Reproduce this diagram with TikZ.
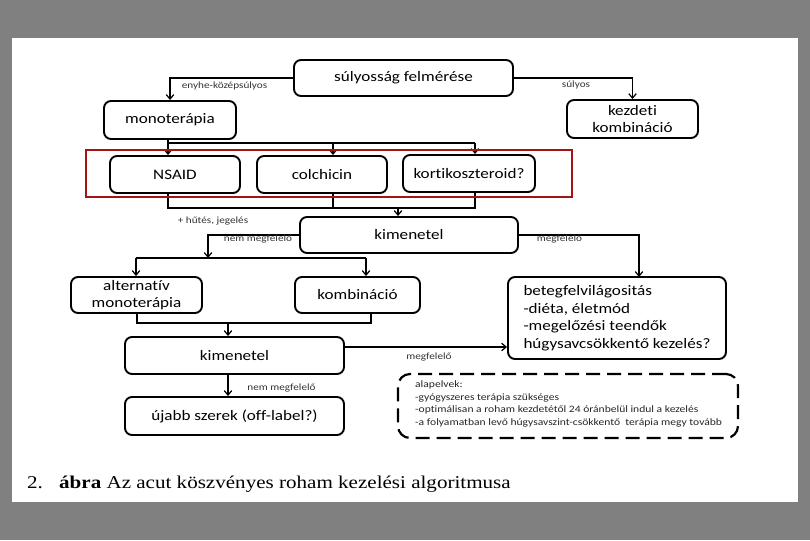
\documentclass[tikz,border=0pt]{standalone}
\usepackage{fontspec}
\newfontfamily\boxfont[FakeStretch=1.18,Ligatures=NoCommon]{Carlito}
\newfontfamily\capfont[FakeStretch=1.17]{Liberation Serif}
\usetikzlibrary{arrows.meta,calc}
\definecolor{frame}{RGB}{160,22,22}
\definecolor{pagegray}{RGB}{128,128,128}
\begin{document}
\begin{tikzpicture}[x=1pt,y=-1pt,
  box/.style={draw,line width=1.9pt,rounded corners=7pt,inner sep=0pt,align=center,
    font=\boxfont\fontsize{14.5}{17.5}\selectfont},
  conn/.style={line width=1.3pt},
  arr/.style={conn,-{Straight Barb[length=4.5pt,width=7.5pt,line width=1.2pt]}},
  lbl/.style={font=\boxfont\fontsize{9.5}{11}\selectfont,text=black!80,inner sep=0pt},
  small/.style={font=\boxfont\fontsize{9.8}{12.7}\selectfont,text=black!85,inner sep=0pt,align=left}]
\useasboundingbox (0,0) rectangle (810,540);
\fill[pagegray] (0,0) rectangle (810,540);
\fill[white] (12,38) rectangle (798,502);

% boxes
\node[box,minimum width=219pt,minimum height=36pt] (sev) at (403.5,78) {súlyosság felmérése};
\node[box,minimum width=132pt,minimum height=38pt] (mono) at (170,120) {monoterápia};
\node[box,minimum width=131pt,minimum height=38pt] (kezd) at (632.5,119) {kezdeti\\kombináció};
\node[box,minimum width=130pt,minimum height=37pt] (nsaid) at (175,174.5) {\raisebox{-2pt}{NSAID}};
\node[box,minimum width=130pt,minimum height=37pt] (colch) at (322,174.5) {\raisebox{-2pt}{colchicin}};
\node[box,minimum width=132pt,minimum height=37pt] (kort) at (469,173.5) {kortikoszteroid?};
\node[box,minimum width=218pt,minimum height=36pt] (kim1) at (409,235) {kimenetel};
\node[box,minimum width=131pt,minimum height=36pt] (alt) at (136.5,295) {alternatív\\monoterápia};
\node[box,minimum width=125pt,minimum height=36pt] (komb) at (357.5,295) {kombináció};
\node[box,minimum width=219pt,minimum height=37pt] (kim2) at (234.5,355.5) {kimenetel};
\node[box,minimum width=219pt,minimum height=38pt] (ujabb) at (234.5,416) {újabb szerek (off-label?)};
\node[box,minimum width=218pt,minimum height=82pt,align=left] (beteg) at (617,318)
  {betegfelvilágositás\\-diéta, életmód\\-megelőzési teendők\\húgysavcsökkentő kezelés?};
\node[draw,line width=2.2pt,dash pattern=on 14pt off 7pt,rounded corners=12pt,
  minimum width=340pt,minimum height=64pt] (alap) at (568,406) {};
\node[small,anchor=north west] (alaptxt) at (415,380.5)
  {alapelvek:\\-gyógyszeres terápia szükséges\\-optimálisan a roham kezdetétől 24 óránbelül indul a kezelés\\-a folyamatban levő húgysavszint-csökkentő\ \ terápia megy tovább};

% top connectors
\draw[arr] (sev.west) -| (mono);
\draw[arr] (sev.east) -| (kezd);
\node[lbl] (l1) at (224.5,86) {enyhe-középsúlyos};
\node[lbl] (l2) at (576,85) {súlyos};

% monoterapia -> three drugs
\coordinate (bL) at (168,143);
\coordinate (bM) at (333,143);
\coordinate (bR) at (475,143);
\draw[conn] (mono.south -| bL) -- (bL) -- (bR);
\draw[arr] (bL) -- (bL |- nsaid.north);
\draw[arr] (bM) -- (bM |- colch.north);
\draw[arr] (bR) -- (bR |- kort.north);

% drugs -> kimenetel
\coordinate (cL) at (168,208);
\coordinate (cM) at (333,208);
\coordinate (cR) at (475,208);
\coordinate (cA) at (398,208);
\draw[conn] (cL |- nsaid.south) -- (cL) -- (cR) -- (cR |- kort.south);
\draw[conn] (cM |- colch.south) -- (cM);
\draw[arr] (cA) -- (cA |- kim1.north);
\node[lbl] (l3) at (213,221) {+ hűtés, jegelés};

% red frame
\node[draw=frame,line width=2.6pt,minimum width=486pt,minimum height=47pt] (redframe) at (329,173.5) {};

% kimenetel 1 branches
\coordinate (dA) at (208,258);
\coordinate (dL) at (136,258);
\coordinate (dR) at (366,258);
\draw[arr] (kim1.west) -| (dA);
\draw[conn] (dL) -- (dR);
\draw[arr] (dL) -- (dL |- alt.north);
\draw[arr] (dR) -- (dR |- komb.north);
\node[lbl] (l4) at (258,239) {nem megfelelő};
\coordinate (bt) at (639,277);
\draw[arr] (kim1.east) -| (bt);
\node[lbl] (l5) at (559.5,239) {megfelelő};

% alt/komb -> kimenetel 2
\coordinate (eL) at (137,323);
\coordinate (eR) at (371,323);
\coordinate (eA) at (228,323);
\draw[conn] (eL |- alt.south) -- (eL) -- (eR) -- (eR |- komb.south);
\draw[arr] (eA) -- (eA |- kim2.north);

% kimenetel 2 branches
\draw[arr] ([yshift=8.5pt]kim2.east) coordinate (k2r) -- (k2r -| beteg.west);
\node[lbl] (l6) at (429,357) {megfelelő};
\coordinate (fA) at (228,374);
\draw[arr] (fA) -- (fA |- ujabb.north);
\node[lbl] (l7) at (281.5,388) {nem megfelelő};

% caption
\node[anchor=base west,inner sep=0pt,font=\capfont\fontsize{18}{20}\selectfont] (capnum) at (27,488) {2.};
\node[anchor=base west,inner sep=0pt,font=\capfont\fontsize{18}{20}\selectfont] (cap) at (59,488)
  {\textbf{ábra} Az acut köszvényes roham kezelési algoritmusa};
\end{tikzpicture}
\end{document}
